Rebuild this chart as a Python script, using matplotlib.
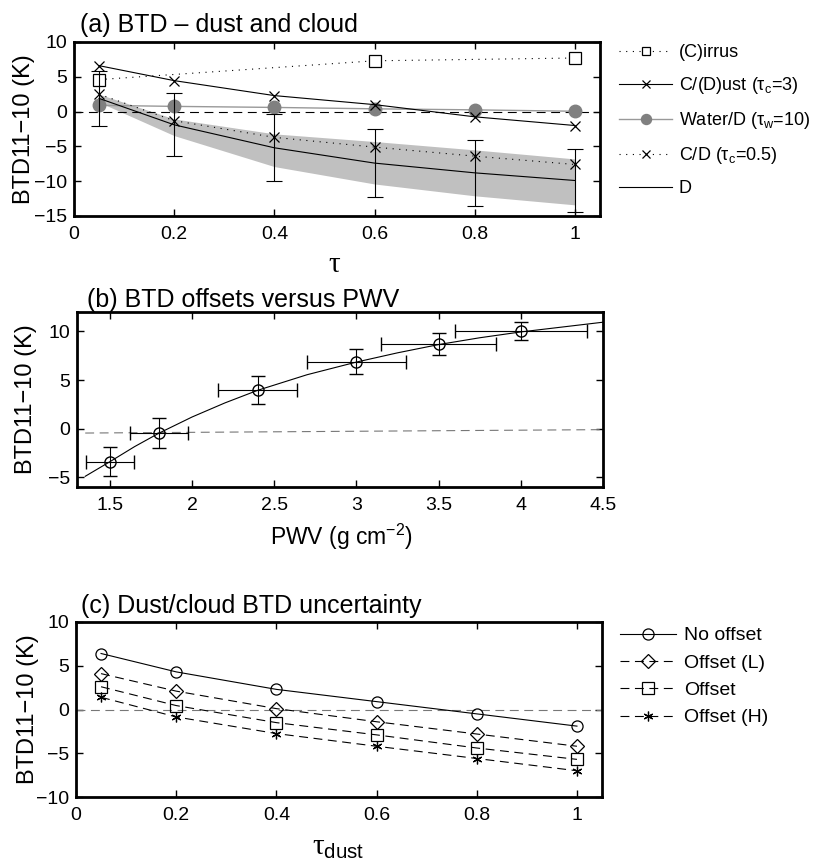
import matplotlib
matplotlib.use("Agg")
import matplotlib.pyplot as plt
import numpy as np

plt.rcParams['font.family'] = ['Liberation Sans', 'DejaVu Sans']
plt.rcParams['mathtext.fontset'] = 'custom'
plt.rcParams['mathtext.rm'] = 'Liberation Sans'
plt.rcParams['mathtext.it'] = 'Liberation Sans:italic'
plt.rcParams['mathtext.sf'] = 'Liberation Serif'
plt.rcParams['mathtext.default'] = 'regular'

# ---------------- Panel (a) data ----------------
tau = [0.05, 0.2, 0.4, 0.6, 0.8, 1.0]
cirrus_x = [0.05, 0.6, 1.0]
cirrus_y = [4.6, 7.3, 7.7]
cd3_y = [6.6, 4.45, 2.3, 1.0, -0.75, -2.0]
water_y = [0.9, 0.75, 0.6, 0.4, 0.25, 0.05]
cd05_y = [2.5, -1.3, -3.7, -5.1, -6.4, -7.6]
dust_y = [1.9, -1.9, -5.2, -7.4, -8.8, -9.9]
dust_err = [3.9, 4.55, 4.8, 4.85, 4.7, 4.55]
band_hi = [2.5, -1.05, -3.2, -4.3, -5.5, -6.8]
band_lo = [1.35, -3.45, -7.9, -10.4, -12.1, -13.4]

# ---------------- Panel (b) data ----------------
pwv = [1.5, 1.8, 2.4, 3.0, 3.5, 4.0]
offset_btd = [-3.4, -0.45, 3.95, 6.9, 8.7, 10.05]
btd_err = [1.5, 1.55, 1.45, 1.25, 1.15, 0.95]
pwv_err = [0.146, 0.178, 0.24, 0.3, 0.35, 0.4]
fit_x = [1.35, 1.5, 1.65, 1.8, 2.0, 2.2, 2.4, 2.7, 3.0, 3.25, 3.5, 3.75, 4.0, 4.25, 4.5]
fit_y = [-4.9, -3.4, -1.85, -0.45, 1.2, 2.65, 3.95, 5.55, 6.85, 7.8, 8.65, 9.35, 9.95, 10.45, 10.95]
ref_x = [1.35, 4.5]
ref_y = [-0.45, -0.1]

# ---------------- Panel (c) data ----------------
tau_dust = [0.05, 0.2, 0.4, 0.6, 0.8, 1.0]
no_offset = [6.4, 4.3, 2.3, 0.9, -0.5, -1.9]
offset_L = [4.1, 2.1, 0.1, -1.4, -2.8, -4.2]
offset_M = [2.6, 0.45, -1.5, -2.9, -4.4, -5.7]
offset_H = [1.4, -0.85, -2.75, -4.2, -5.6, -7.0]

W, H = 819, 865
fig = plt.figure(figsize=(W / 100, H / 100), dpi=100)


def box(l, t, r, b):
    return [l / W, 1 - b / H, (r - l) / W, (b - t) / H]


axa = fig.add_axes(box(74, 42, 600, 216))
axb = fig.add_axes(box(77, 312, 603, 487))
axc = fig.add_axes(box(76, 622, 602, 797))


def style(ax):
    for s in ax.spines.values():
        s.set_linewidth(2)
    ax.tick_params(direction='in', top=True, right=True, length=5, width=1,
                   labelsize=14)
    ax.tick_params(axis='x', pad=7)
    ax.tick_params(axis='y', pad=5)


def ylab(ax, left_px, axleft):
    ax.set_ylabel('BTD11\u221210 (K)', fontsize=17, va='center')
    ax.yaxis.set_label_coords((left_px - axleft) / 526, 0.5)


DASH = (0, (8, 5))
DOT = (0, (1, 5))
lw = 0.8

# ---- (a)
axa.fill_between(tau, band_lo, band_hi, color='#c0c0c0', lw=0, zorder=1)
axa.axhline(0, color='black', ls=DASH, lw=lw, zorder=2)
l1, = axa.plot(cirrus_x, cirrus_y, ls=DOT, color='black', lw=lw, marker='s',
               ms=8, mfc='white', mec='black', mew=0.9, label='(C)irrus', zorder=4)
l2, = axa.plot(tau, cd3_y, '-', color='black', lw=lw, marker='x', ms=7, mew=0.9,
               label='C/(D)ust ($\\tau_c$=3)', zorder=4)
l3, = axa.plot(tau, water_y, '-', color='#999999', lw=1.0, marker='o', ms=9,
               mfc='#808080', mec='#808080', label='Water/D ($\\tau_w$=10)', zorder=3)
l4, = axa.plot(tau, cd05_y, ls=DOT, color='black', lw=lw, marker='x', ms=7, mew=0.9,
               label='C/D ($\\tau_c$=0.5)', zorder=4)
l5, = axa.plot(tau, dust_y, '-', color='black', lw=lw, label='D', zorder=4)
axa.errorbar(tau, dust_y, yerr=dust_err, fmt='none', ecolor='black', elinewidth=0.8,
             capsize=6, capthick=0.8, zorder=4)
axa.set_xlim(0, 1.05)
axa.set_ylim(-15, 10)
axa.set_xticks([0, 0.2, 0.4, 0.6, 0.8, 1])
axa.set_xticklabels(['0', '0.2', '0.4', '0.6', '0.8', '1'])
axa.set_yticks([-15, -10, -5, 0, 5, 10])
axa.set_yticklabels(['\u221215', '\u221210', '\u22125', '0', '5', '10'])
style(axa)
ylab(axa, 24, 74)
axa.set_xlabel('$\\mathsf{\\tau}$', fontsize=21, va='center')
axa.xaxis.set_label_coords((335 - 74) / 526, (216 - 264) / 174)
axa.text(0.011, 1.057, '(a) BTD \u2013 dust and cloud', transform=axa.transAxes,
         fontsize=18, va='baseline', ha='left')
fig.legend(handles=[l1, l2, l3, l4, l5], loc='upper left',
           bbox_to_anchor=(612 / W, 1 - 37 / H), frameon=False, fontsize=13,
           handlelength=2.95, handletextpad=0.35, labelspacing=0.77, borderaxespad=0,
           markerscale=0.8)

# ---- (b)
axb.plot(ref_x, ref_y, ls=DASH, color='#777777', lw=lw, zorder=2)
axb.plot(fit_x, fit_y, '-', color='black', lw=lw, zorder=3)
axb.errorbar(pwv, offset_btd, yerr=btd_err, xerr=pwv_err, fmt='o', ms=8, mfc='none',
             mec='black', mew=1.0, ecolor='black', elinewidth=0.8, capsize=5,
             capthick=0.8, zorder=4)
axb.set_xlim(1.3, 4.5)
axb.set_ylim(-6, 12)
axb.set_xticks([1.5, 2, 2.5, 3, 3.5, 4, 4.5])
axb.set_xticklabels(['1.5', '2', '2.5', '3', '3.5', '4', '4.5'])
axb.set_yticks([-5, 0, 5, 10])
axb.set_yticklabels(['\u22125', '0', '5', '10'])
style(axb)
ylab(axb, 26, 77)
axb.set_xlabel('PWV (g cm$^{\u22122}$)', fontsize=16.5, va='center')
axb.xaxis.set_label_coords((341 - 77) / 526, (487 - 537) / 175)
axb.text(0.019, 1.030, '(b) BTD offsets versus PWV', transform=axb.transAxes,
         fontsize=18, va='baseline', ha='left')

# ---- (c)
axc.axhline(0, color='#777777', ls=DASH, lw=lw, zorder=2)
c1, = axc.plot(tau_dust, no_offset, '-', color='black', lw=lw, marker='o', ms=8,
               mfc='none', mec='black', mew=0.9, label='No offset', zorder=4)
c2, = axc.plot(tau_dust, offset_L, ls=DASH, color='black', lw=lw, marker='D', ms=7,
               mfc='none', mec='black', mew=0.9, label='Offset (L)', zorder=4)
c3, = axc.plot(tau_dust, offset_M, ls=DASH, color='black', lw=lw, marker='s', ms=8,
               mfc='none', mec='black', mew=0.9, label='Offset', zorder=4)
c4, = axc.plot(tau_dust, offset_H, ls=DASH, color='black', lw=lw, marker=(6, 2, 0),
               ms=7, mec='black', mew=0.9, label='Offset (H)', zorder=4)
axc.set_xlim(0, 1.05)
axc.set_ylim(-10, 10)
axc.set_xticks([0, 0.2, 0.4, 0.6, 0.8, 1])
axc.set_xticklabels(['0', '0.2', '0.4', '0.6', '0.8', '1'])
axc.set_yticks([-10, -5, 0, 5, 10])
axc.set_yticklabels(['\u221210', '\u22125', '0', '5', '10'])
style(axc)
ylab(axc, 28, 76)
axc.set_xlabel('$\\mathsf{\\tau}_{dust}$', fontsize=21, va='center')
axc.xaxis.set_label_coords((338 - 76) / 526, (797 - 847) / 175)
axc.text(0.0095, 1.051, '(c) Dust/cloud BTD uncertainty', transform=axc.transAxes,
         fontsize=18, va='baseline', ha='left')
fig.legend(handles=[c1, c2, c3, c4], loc='upper left',
           bbox_to_anchor=(612 / W, 1 - 619 / H), frameon=False, fontsize=14,
           handlelength=2.9, handletextpad=0.4, labelspacing=0.5, borderaxespad=0)

fig.savefig('out.png', dpi=100)
